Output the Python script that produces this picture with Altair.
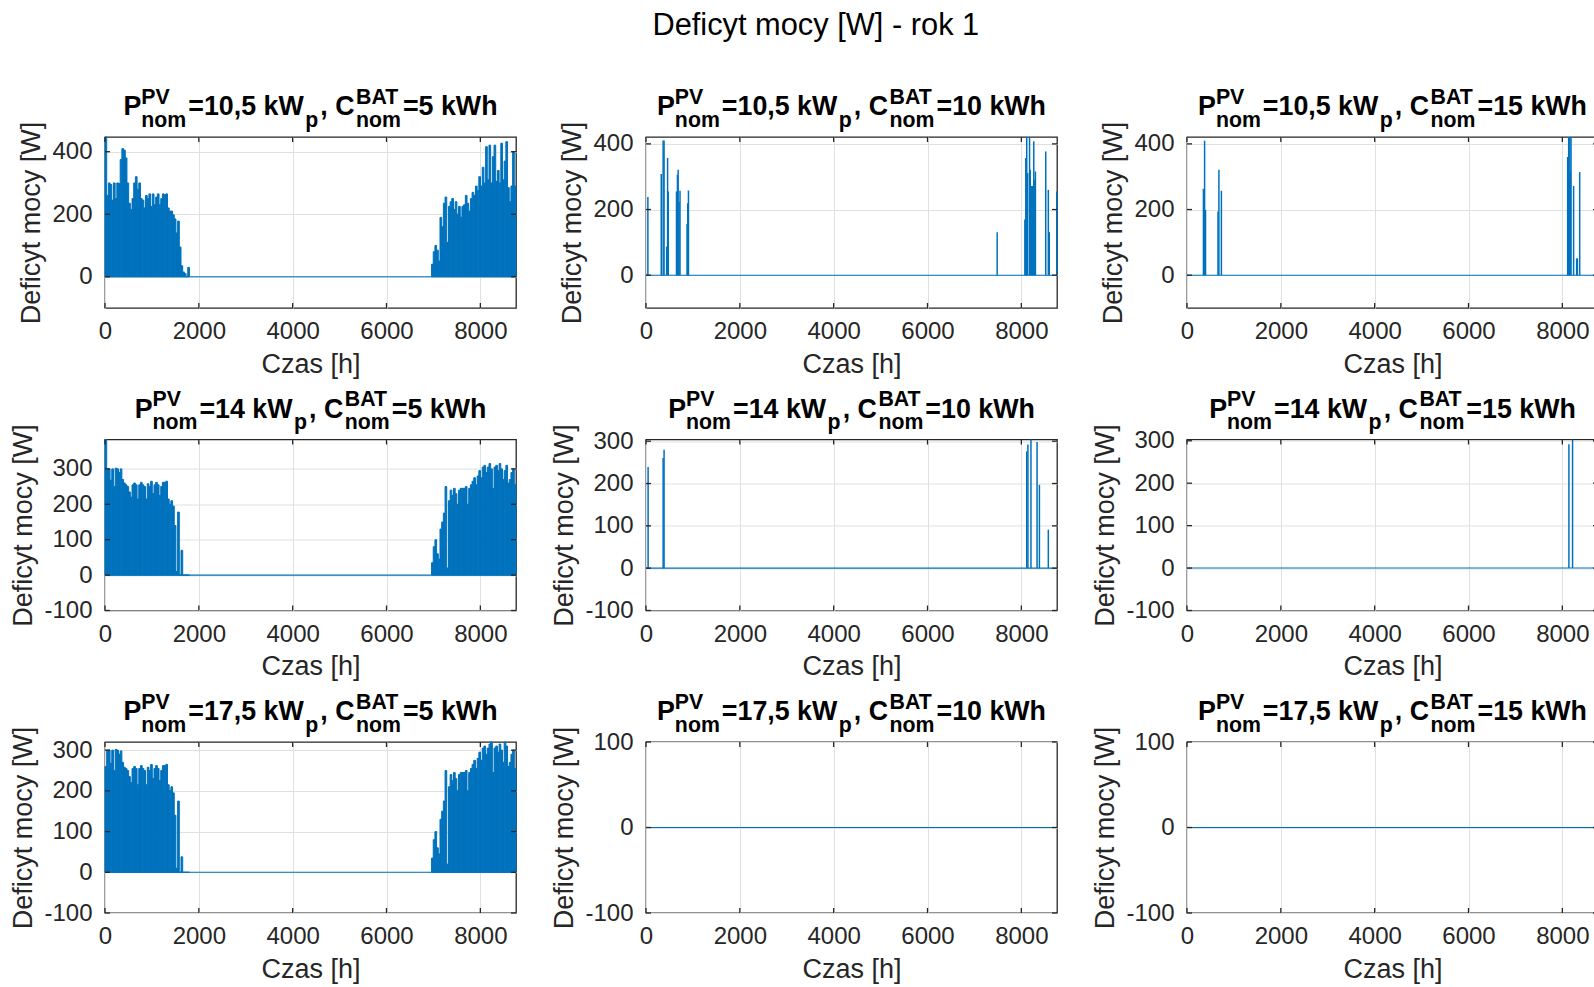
import altair as alt
import pandas as pd

FONT = "Liberation Sans"
BLUE = "#0072BD"
AXC = "#262626"
W, H = 411, 171

# ---------------- data ----------------
x_ticks = [0, 2000, 4000, 6000, 8000]
x_max = 8760
bin_hours = 36          # width of one envelope value in the dense panels
left_start = 0
right_start = 6960

pv_labels = ["10,5", "14", "17,5"]
bat_labels = ["5", "10", "15"]
y_tops = [[447, 421, 421], [383, 304, 303], [320, 100, 100]]
y_ticks = [
    [[0, 200, 400], [0, 200, 400], [0, 200, 400]],
    [[-100, 0, 100, 200, 300], [-100, 0, 100, 200, 300], [-100, 0, 100, 200, 300]],
    [[-100, 0, 100, 200, 300], [-100, 0, 100], [-100, 0, 100]],
]

# dense panels (first column): peak deficit per 36 h, winter start / winter end
r1c1_left = [447, 260, 300, 295, 245, 300, 250, 300, 298, 375,
             410, 405, 380, 300, 235, 215, 250, 300, 320, 280,
             300, 250, 245, 220, 260, 250, 265, 225, 265, 230,
             255, 265, 230, 250, 265, 262, 265, 220, 210, 210,
             198, 185, 140, 178, 95, 35, 15, 10, 0, 30]
r1c1_right = [40, 80, 100, 85, 50, 190, 160, 235, 255, 110,
              225, 240, 250, 215, 240, 200, 225, 190, 225, 230,
              260, 235, 210, 250, 270, 260, 290, 275, 320, 290,
              350, 300, 416, 310, 421, 300, 384, 421, 305, 340,
              300, 427, 310, 370, 432, 285, 240, 290, 400, 290]
r2c1_left = [383, 300, 300, 268, 300, 250, 302, 300, 290, 300,
             270, 260, 255, 250, 235, 220, 255, 260, 255, 215,
             255, 262, 255, 250, 215, 258, 250, 265, 230, 255,
             262, 255, 225, 250, 262, 262, 265, 215, 200, 210,
             195, 140, 10, 178, 0, 70, 0, 0, 0, 0]
r2c1_right = [35, 80, 100, 60, 45, 130, 150, 175, 250, 20,
              210, 240, 225, 245, 230, 200, 240, 245, 245, 245,
              250, 200, 245, 255, 265, 275, 255, 280, 295, 275,
              305, 310, 290, 305, 315, 300, 245, 305, 310, 295,
              315, 300, 270, 295, 310, 260, 270, 290, 300, 255]
r3c1_left = [260, 300, 300, 268, 300, 250, 302, 300, 290, 298,
             270, 258, 255, 250, 235, 220, 255, 260, 255, 215,
             255, 262, 255, 250, 215, 258, 250, 265, 230, 255,
             262, 255, 225, 250, 262, 262, 265, 215, 200, 210,
             195, 140, 10, 175, 0, 38, 0, 0, 0, 0]
r3c1_right = [35, 80, 100, 60, 45, 130, 150, 175, 250, 20,
              210, 240, 225, 245, 230, 200, 240, 245, 245, 245,
              250, 200, 245, 255, 265, 275, 255, 280, 295, 275,
              305, 310, 290, 305, 315, 320, 245, 305, 310, 295,
              315, 300, 270, 320, 310, 260, 270, 290, 300, 255]

# sparse panels: isolated deficit events (hour, W)
r1c2_hours = [40, 325, 365, 385, 440, 460, 475, 650, 670, 685, 705, 725, 875, 890, 905,
              7485, 8075, 8095, 8115, 8135, 8175, 8190, 8220, 8240, 8265, 8280, 8300,
              8520, 8575, 8595, 8755]
r1c2_vals = [238, 308, 410, 410, 87, 357, 255, 255, 306, 321, 224, 257, 156, 219, 258,
             131, 170, 357, 421, 311, 421, 321, 272, 272, 408, 291, 316,
             377, 260, 131, 255]
r1c3_hours = [350, 375, 395, 661, 680, 733, 8113, 8135, 8148, 8160, 8172, 8185, 8240,
              8305, 8320, 8370]
r1c3_vals = [263, 410, 199, 194, 321, 257, 360, 421, 291, 421, 316, 421, 272, 51, 51, 314]
r2c2_hours = [45, 365, 385, 8115, 8140, 8205, 8335, 8385, 8575]
r2c2_vals = [239, 260, 280, 276, 292, 304, 298, 197, 91]
r2c3_hours = [8140, 8218]
r2c3_vals = [292, 303]

dense = {
    (0, 0): (r1c1_left, r1c1_right),
    (1, 0): (r2c1_left, r2c1_right),
    (2, 0): (r3c1_left, r3c1_right),
}
sparse = {
    (0, 1): (r1c2_hours, r1c2_vals),
    (0, 2): (r1c3_hours, r1c3_vals),
    (1, 1): (r2c2_hours, r2c2_vals),
    (1, 2): (r2c3_hours, r2c3_vals),
}

suptitle = "Deficyt mocy [W] - rok 1"

# ---------------- helpers ----------------
BOLD_W = {'P': 667, 'V': 667, 'n': 611, 'o': 611, 'm': 889, '=': 584, '0': 556,
          '1': 556, '4': 556, '5': 556, '7': 556, ',': 278, ' ': 278, 'k': 556,
          'W': 944, 'p': 611, 'C': 722, 'B': 722, 'A': 722, 'T': 611, 'h': 611}


def text_w(s, size):
    return sum(BOLD_W[c] for c in s) * size / 1000.0


ONE = pd.DataFrame({"k": [0]})


def title_layers(pv, bat):
    fm, fs = 26.8, 21.3
    b_main, b_sup, b_sub = -21.7, -33.5, -10.5
    parts = [("P", "main"), (("PV", "nom"), "stack0"), ("=" + pv + " kW", "main"),
             ("p", "sub"), (", C", "main"), (("BAT", "nom"), "stack"),
             ("=" + bat + " kWh", "main")]
    items = []
    x = 0.0
    for content, kind in parts:
        if kind == "main":
            items.append((content, x, b_main, fm))
            x += text_w(content, fm)
        elif kind == "sub":
            x += 1.5
            items.append((content, x, b_sub, fs))
            x += text_w(content, fs) + 2.0
        else:
            sup, sub = content
            if kind == "stack":
                x += 1.5
            items.append((sup, x, b_sup, fs))
            items.append((sub, x, b_sub, fs))
            x += max(text_w(sup, fs), text_w(sub, fs)) + 2.0
    off = W / 2.0 - x / 2.0
    layers = []
    for t, px, py, size in items:
        layers.append(
            alt.Chart(ONE).mark_text(align="left", baseline="alphabetic", font=FONT,
                                     fontWeight="bold", fontSize=size, color="black")
            .encode(x=alt.value(off + px), y=alt.value(py), text=alt.value(t))
        )
    return layers


AXIS_STYLE = dict(
    labelFont=FONT, labelFontSize=24, labelColor=AXC, labelFlush=False,
    labelOverlap=False, labelExpr="'' + datum.value",
    titleFont=FONT, titleFontSize=27, titleFontWeight="normal",
    titleColor=AXC, grid=True, gridColor="#e0e0e0", gridWidth=1,
    domain=False, ticks=False,
)


def panel(r, c):
    ymax = y_tops[r][c]
    ticks = y_ticks[r][c]
    xs = alt.Scale(domain=[0, x_max], nice=False, zero=False)
    ys = alt.Scale(domain=[-100, ymax], nice=False, zero=False)
    x_axis = alt.Axis(values=x_ticks, title="Czas [h]",
                      labelPadding=11.5, titlePadding=7.5, **AXIS_STYLE)
    y_axis = alt.Axis(values=ticks, title="Deficyt mocy [W]",
                      labelPadding=13, titlePadding=6.5, **AXIS_STYLE)

    layers = []
    zero_df = pd.DataFrame({"a": [0], "b": [x_max], "y": [0]})
    layers.append(
        alt.Chart(zero_df).mark_rule(color=BLUE, strokeWidth=1.1)
        .encode(x=alt.X("a:Q", scale=xs, axis=x_axis), x2="b:Q",
                y=alt.Y("y:Q", scale=ys, axis=y_axis))
    )
    if (r, c) in dense:
        lv, rv = dense[(r, c)]
        h0 = [left_start + i * bin_hours for i in range(len(lv))] + \
             [right_start + i * bin_hours for i in range(len(rv))]
        vals = lv + rv
        ddf = pd.DataFrame({"h0": h0, "h1": [h + bin_hours for h in h0],
                            "v": vals, "z": [0] * len(vals)})
        layers.append(
            alt.Chart(ddf).mark_rect(color=BLUE, stroke=BLUE, strokeWidth=1)
            .encode(x=alt.X("h0:Q", scale=xs, axis=x_axis), x2="h1:Q",
                    y=alt.Y("v:Q", scale=ys, axis=y_axis), y2="z:Q")
        )
    if (r, c) in sparse:
        hs, vs = sparse[(r, c)]
        sdf = pd.DataFrame({"h": hs, "v": vs, "z": [0] * len(vs)})
        layers.append(
            alt.Chart(sdf).mark_rule(color=BLUE, strokeWidth=1.5)
            .encode(x=alt.X("h:Q", scale=xs, axis=x_axis),
                    y=alt.Y("v:Q", scale=ys, axis=y_axis), y2="z:Q")
        )
    xt = pd.DataFrame({"t": x_ticks})
    yt = pd.DataFrame({"t": ticks})
    tick_len = 5
    layers.append(alt.Chart(xt).mark_rule(color=AXC, strokeWidth=1.3)
                  .encode(x=alt.X("t:Q", scale=xs, axis=x_axis),
                          y=alt.value(0), y2=alt.value(tick_len)))
    layers.append(alt.Chart(xt).mark_rule(color=AXC, strokeWidth=1.3)
                  .encode(x=alt.X("t:Q", scale=xs, axis=x_axis),
                          y=alt.value(H - tick_len), y2=alt.value(H)))
    layers.append(alt.Chart(yt).mark_rule(color=AXC, strokeWidth=1.3)
                  .encode(y=alt.Y("t:Q", scale=ys, axis=y_axis),
                          x=alt.value(0), x2=alt.value(tick_len)))
    layers.append(alt.Chart(yt).mark_rule(color=AXC, strokeWidth=1.3)
                  .encode(y=alt.Y("t:Q", scale=ys, axis=y_axis),
                          x=alt.value(W - tick_len), x2=alt.value(W)))
    layers += title_layers(pv_labels[r], bat_labels[c])
    if (r, c) == (0, 1):
        layers.append(
            alt.Chart(ONE).mark_text(align="center", baseline="alphabetic", font=FONT,
                                     fontSize=30.8, fontWeight="normal", color="black")
            .encode(x=alt.value(169.8), y=alt.value(-102), text=alt.value(suptitle))
        )
    return alt.layer(*layers).properties(width=W, height=H)


panels = [panel(r, c) for r in range(3) for c in range(3)]

chart = alt.concat(
    *panels, columns=3, spacing={"row": 131.5, "column": 130}, bounds="flush"
).properties(
    autosize=alt.AutoSizeParams(type="none"),
    padding={"left": 105, "top": 137, "right": 1489, "bottom": 850},
    background="white",
).configure(font=FONT).configure_view(
    stroke=AXC, strokeWidth=1.3
)

chart.save("out.html", embed_options={"renderer": "svg", "actions": False})
